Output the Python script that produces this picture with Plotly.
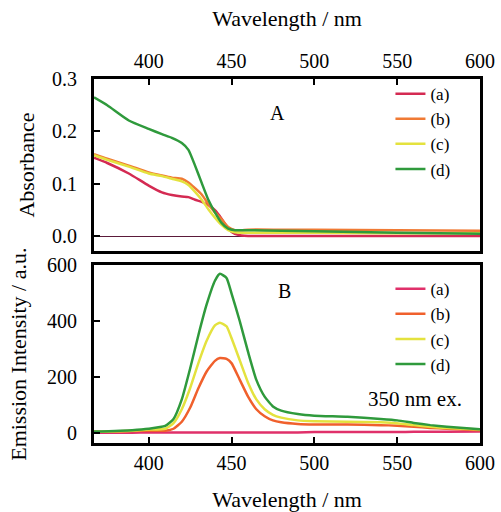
import plotly.graph_objects as go

# ---------------- data ----------------
labels = ["(a)", "(b)", "(c)", "(d)"]
colors = ["#d42a52", "#f07a34", "#e4e23e", "#2f9a3c"]
colors_b = ["#e0306a", "#f0602c", "#e4e23e", "#2f9a3c"]

# Panel A: absorbance
abs_wl = [367, 375, 388, 400, 408, 414, 420, 424, 428, 432, 436, 440, 444, 448, 452, 456, 460, 480, 500, 550, 600]
abs_a = [0.150, 0.140, 0.120, 0.097, 0.084, 0.079, 0.076, 0.075, 0.070, 0.066, 0.060, 0.050, 0.034, 0.015, 0.005, 0.002, 0.001, 0.001, 0.001, 0.001, 0.001]
abs_b = [0.157, 0.148, 0.135, 0.122, 0.116, 0.112, 0.110, 0.103, 0.092, 0.080, 0.062, 0.046, 0.033, 0.018, 0.012, 0.012, 0.013, 0.013, 0.013, 0.012, 0.011]
abs_c = [0.155, 0.146, 0.133, 0.120, 0.115, 0.110, 0.105, 0.098, 0.085, 0.070, 0.052, 0.036, 0.022, 0.012, 0.008, 0.007, 0.007, 0.007, 0.007, 0.006, 0.006]
abs_d = [0.265, 0.250, 0.221, 0.205, 0.195, 0.188, 0.178, 0.165, 0.135, 0.102, 0.070, 0.046, 0.026, 0.015, 0.012, 0.012, 0.012, 0.011, 0.010, 0.007, 0.005]

# Panel B: emission
em_wl = [367, 390, 400, 410, 415, 420, 425, 430, 435, 440, 443, 447, 450, 455, 460, 465, 470, 475, 480, 490, 500, 520, 540, 550, 560, 570, 580, 600]
em_a = [1, 1, 2, 2, 2, 2, 2, 2, 2, 2, 2, 2, 2, 2, 2, 2, 2, 2, 2, 2, 3, 3, 3, 3, 4, 4, 4, 5]
em_b = [4, 7, 8, 8, 15, 40, 90, 160, 220, 258, 268, 265, 250, 190, 130, 85, 60, 45, 38, 32, 30, 30, 28, 26, 22, 18, 15, 10]
em_c = [4, 8, 12, 15, 35, 85, 160, 250, 330, 385, 395, 382, 340, 260, 180, 120, 85, 65, 55, 45, 42, 40, 38, 35, 28, 22, 18, 12]
em_d = [5, 10, 15, 25, 50, 120, 230, 350, 460, 545, 570, 555, 500, 400, 290, 190, 130, 95, 80, 68, 62, 58, 50, 45, 36, 28, 22, 13]

abs_series = [abs_a, abs_b, abs_c, abs_d]
em_series = [em_a, em_b, em_c, em_d]

FONT = "Liberation Serif"

fig = go.Figure()
for i, (lab, col) in enumerate(zip(labels, colors)):
    fig.add_trace(go.Scatter(x=abs_wl, y=abs_series[i], mode="lines", name=lab,
                             line=dict(color=col, width=2.5, shape="spline", smoothing=0.5),
                             xaxis="x", yaxis="y", legend="legend"))
for i, (lab, col) in enumerate(zip(labels, colors_b)):
    fig.add_trace(go.Scatter(x=em_wl, y=em_series[i], mode="lines", name=lab,
                             line=dict(color=col, width=2.5, shape="spline", smoothing=0.5),
                             xaxis="x2", yaxis="y2", legend="legend2"))

axis_common = dict(showline=True, linewidth=3, linecolor="black", mirror=True,
                   ticks="inside", ticklen=6, tickwidth=1.5, tickcolor="black",
                   showgrid=False, automargin=False,
                   tickfont=dict(family=FONT, size=20, color="black"))

TF = dict(family=FONT, size=22, color="black")

fig.update_layout(
    width=501, height=512,
    margin=dict(l=94, r=21, t=79, b=69),
    paper_bgcolor="white", plot_bgcolor="white",
    font=dict(family=FONT, size=20, color="black"),
    xaxis=dict(axis_common, range=[367, 600], side="top", anchor="y",
               tickvals=[400, 450, 500, 550, 600], ticklabelstandoff=0,
               title=dict(text="Wavelength / nm", font=TF, standoff=18)),
    yaxis=dict(axis_common, range=[-0.028, 0.3], domain=[0.527, 1], anchor="x",
               tickvals=[0.0, 0.1, 0.2, 0.3], tickformat=".1f", ticklabelstandoff=10,
               zeroline=True, zerolinecolor="#5b1a3a", zerolinewidth=1,
               title=dict(text="Absorbance", font=TF, standoff=12)),
    xaxis2=dict(axis_common, range=[367, 600], side="bottom", anchor="y2",
                tickvals=[400, 450, 500, 550, 600], ticklabelstandoff=0,
                title=dict(text="Wavelength / nm", font=TF, standoff=34)),
    yaxis2=dict(axis_common, range=[-36, 600], domain=[0, 0.488], anchor="x2",
                tickvals=[0, 200, 400, 600], ticklabelstandoff=10, zeroline=False,
                title=dict(text="Emission Intensity / a.u.", font=TF, standoff=15)),
    legend=dict(x=0.768, y=1.008, xanchor="left", yanchor="top", bgcolor="rgba(0,0,0,0)",
                font=dict(family=FONT, size=17), tracegroupgap=0),
    legend2=dict(x=0.768, y=0.472, xanchor="left", yanchor="top", bgcolor="rgba(0,0,0,0)",
                 font=dict(family=FONT, size=17), tracegroupgap=0),
    annotations=[
        dict(x=478, y=0.235, xref="x", yref="y", text="A", showarrow=False,
             font=dict(family=FONT, size=20)),
        dict(x=482, y=509, xref="x2", yref="y2", text="B", showarrow=False,
             font=dict(family=FONT, size=20)),
        dict(x=561, y=120, xref="x2", yref="y2", text="350 nm ex.", showarrow=False,
             font=dict(family=FONT, size=21)),
    ],
)

fig.write_html("out.html", config={"displayModeBar": False},
               post_script="document.body.style.margin='0';")
